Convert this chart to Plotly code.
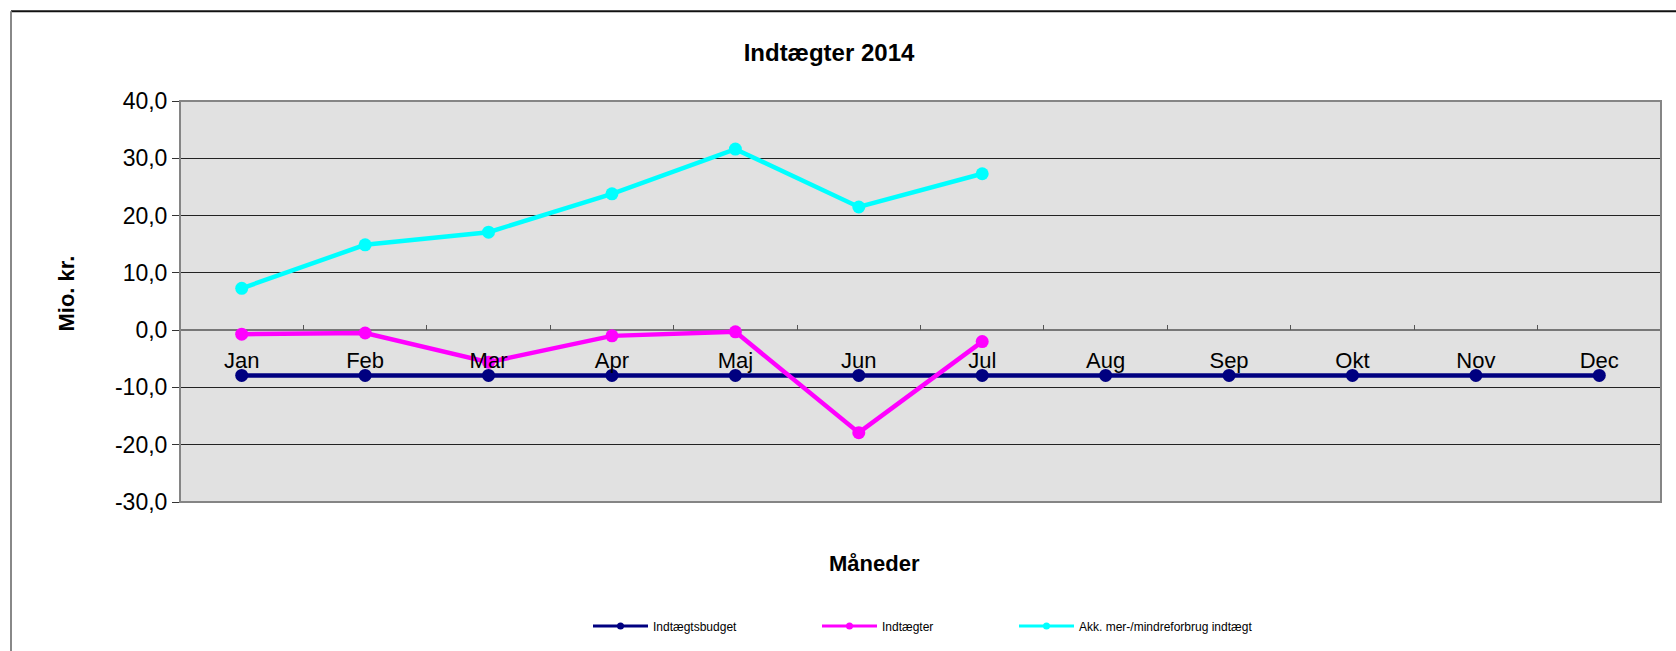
import plotly.graph_objects as go

months = ["Jan", "Feb", "Mar", "Apr", "Maj", "Jun", "Jul", "Aug", "Sep", "Okt", "Nov", "Dec"]
budget = [-7.9, -7.9, -7.9, -7.9, -7.9, -7.9, -7.9, -7.9, -7.9, -7.9, -7.9, -7.9]
indtaegter = [-0.7, -0.5, -5.6, -1.0, -0.3, -17.9, -2.0]
akk = [7.3, 14.9, 17.1, 23.8, 31.6, 21.5, 27.3]
y_ticks = [-30, -20, -10, 0, 10, 20, 30, 40]
y_ticktext = ["-30,0", "-20,0", "-10,0", "0,0", "10,0", "20,0", "30,0", "40,0"]

FONT = "Arial, Liberation Sans, sans-serif"

W, H = 1676, 651
L, R, T, B = 180, 1661, 101, 503
pw, ph = R - L, B - T

def px(x):
    return (x - L) / pw

def py(y):
    return (B - y) / ph

fig = go.Figure()
series = [
    ("Indtægtsbudget", budget, "#000080", "legend"),
    ("Indtægter", indtaegter, "#FF00FF", "legend2"),
    ("Akk. mer-/mindreforbrug indtægt", akk, "#00FFFF", "legend3"),
]
for name, vals, col, lg in series:
    fig.add_trace(go.Scatter(
        x=months[:len(vals)], y=vals, name=name, mode="lines+markers",
        line=dict(color=col, width=4.5), marker=dict(color=col, size=13),
        showlegend=False, hoverinfo="skip",
    ))
# legend entries (thin line, small marker as in the reference legend)
for name, vals, col, lg in series:
    fig.add_trace(go.Scatter(
        x=[None], y=[None], name=name, mode="lines+markers",
        line=dict(color=col, width=3), marker=dict(color=col, size=7),
        legend=lg, hoverinfo="skip",
    ))

leg_common = dict(orientation="h", yanchor="middle", y=py(626), xanchor="left",
                  font=dict(family=FONT, size=12, color="#000"), bgcolor="rgba(0,0,0,0)",
                  itemwidth=55)

fig.update_layout(
    width=W, height=H,
    margin=dict(l=L, r=W - R, t=T, b=H - B, pad=0),
    paper_bgcolor="white", plot_bgcolor="#E1E1E1",
    font=dict(family=FONT, color="#000"),
    showlegend=True,
    legend=dict(**leg_common, x=px(588)),
    legend2=dict(**leg_common, x=px(817)),
    legend3=dict(**leg_common, x=px(1014)),
    title=dict(text="<b>Indtægter 2014</b>", xref="container", x=829 / W, xanchor="center",
               yref="container", y=1 - 53 / H, yanchor="middle",
               font=dict(family=FONT, size=24, color="#000")),
    xaxis=dict(
        type="category", categoryorder="array", categoryarray=months,
        range=[-0.5, 11.5], anchor="free", position=(0 - (-30)) / 70,
        showgrid=False, showline=False, zeroline=False,
        ticks="inside", tickson="boundaries", ticklen=5, tickcolor="#555", tickwidth=1,
        tickfont=dict(family=FONT, size=22, color="#000"), ticklabelstandoff=15,
    ),
    yaxis=dict(
        range=[-30, 40], tickvals=y_ticks, ticktext=y_ticktext,
        showgrid=True, gridcolor="#222", gridwidth=1,
        zeroline=True, zerolinecolor="#777", zerolinewidth=2,
        showline=False, ticks="outside", ticklen=7, tickcolor="#333",
        tickfont=dict(family=FONT, size=23, color="#000"),
    ),
)

# plot area frame
fig.add_shape(type="rect", xref="paper", yref="paper", x0=0, x1=1, y0=0, y1=1,
              line=dict(color="#858585", width=2), layer="above")
# outer chart border (top and left edges)
fig.add_shape(type="line", xref="paper", yref="paper", x0=px(11), x1=px(1690), y0=py(11), y1=py(11),
              line=dict(color="#111", width=2), layer="above")
fig.add_shape(type="line", xref="paper", yref="paper", x0=px(11), x1=px(11), y0=py(11), y1=py(700),
              line=dict(color="#888", width=2), layer="above")

fig.add_annotation(text="<b>Måneder</b>", xref="paper", yref="paper", x=px(874), y=py(565),
                   xanchor="center", yanchor="middle", showarrow=False,
                   font=dict(family=FONT, size=22, color="#000"))
fig.add_annotation(text="<b>Mio. kr.</b>", xref="paper", yref="paper", x=px(67), y=py(294),
                   xanchor="center", yanchor="middle", showarrow=False, textangle=-90,
                   font=dict(family=FONT, size=22, color="#000"))

fig.write_html("out.html", config={"displayModeBar": False},
               post_script="document.body.style.margin='0';")
